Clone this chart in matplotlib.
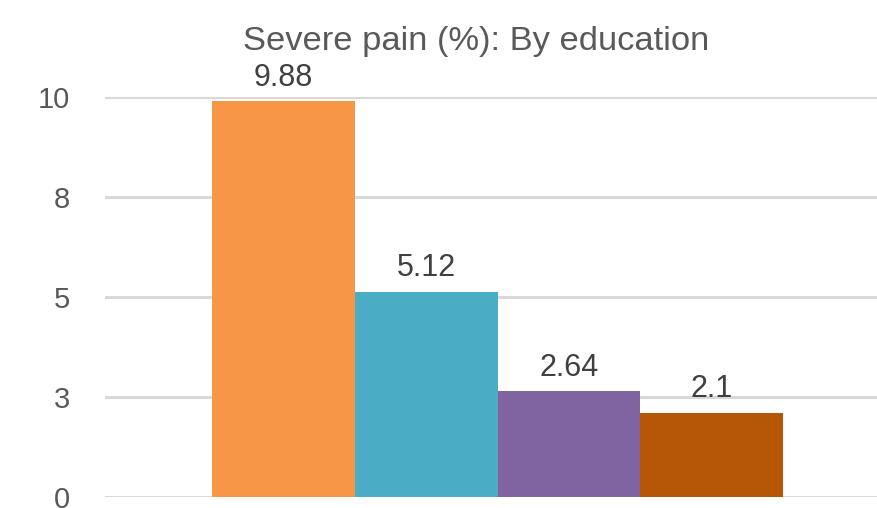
import matplotlib
matplotlib.use("Agg")
import matplotlib.pyplot as plt

plt.rcParams['font.family'] = ['Liberation Sans', 'DejaVu Sans']

groups = ["Group 1", "Group 2", "Group 3", "Group 4"]
severe_pain = [9.88, 5.12, 2.64, 2.1]
value_labels = ["9.88", "5.12", "2.64", "2.1"]
bar_colors = ["#F79646", "#4BACC6", "#8064A2", "#B65708"]
y_ticks = [0, 2.5, 5, 7.5, 10]
y_tick_labels = ["0", "3", "5", "8", "10"]

W, H = 877, 508
fig = plt.figure(figsize=(W / 100, H / 100), dpi=100)
# plot area: left 105px, runs past the right edge, 0 at y=496.5, 10 at y=96.5
ax = fig.add_axes([105 / W, 11.5 / H, 785 / W, 400 / H])

x = range(len(groups))
ax.bar(x, severe_pain, width=1.0, color=bar_colors, zorder=2)

for xi, v, lab in zip(x, severe_pain, value_labels):
    ax.annotate(lab, (xi, v), xytext=(0, 6), textcoords="offset points",
                ha="center", va="bottom", fontsize=22, color="#404040",
                annotation_clip=False)

ax.set_xlim(-1.25, 4.25)
ax.set_ylim(0, 10)
ax.set_yticks(y_ticks)
ax.set_yticklabels(y_tick_labels)
ax.set_xticks([])
ax.yaxis.grid(True, color="#D9D9D9", linewidth=2.2, zorder=0)
ax.set_axisbelow(True)
ax.tick_params(axis="y", length=0, pad=25, labelsize=21, labelcolor="#595959")
for s in ax.spines.values():
    s.set_visible(False)

fig.text(476 / W, 1 - 50 / H, "Severe pain (%): By education",
         ha="center", va="baseline", fontsize=24.8, color="#595959")

fig.savefig("out.png", dpi=100)
